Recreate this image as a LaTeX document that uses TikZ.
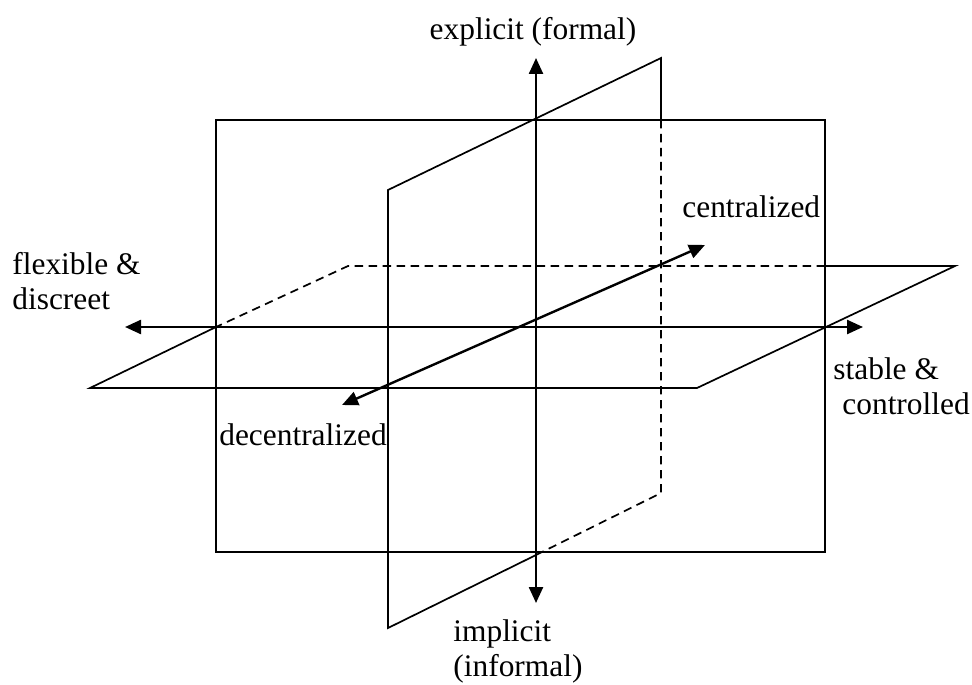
\documentclass[tikz,border=0pt]{standalone}
\usepackage{fontspec}
\setmainfont{Liberation Serif}
\usetikzlibrary{arrows.meta}

\begin{document}
\begin{tikzpicture}[
						x=0.5pt, y=-0.5pt,
						every node/.style={font=\fontsize{15.7}{17.5}\selectfont, inner sep=0pt},
						plane/.style={line width=0.85pt},
						hidden/.style={line width=0.85pt, dash pattern=on 4.2pt off 2.8pt},
						axis/.style={line width=1.2pt, {Triangle[length=8pt,width=7pt]}-{Triangle[length=8pt,width=7pt]}},
						line cap=butt,
						line join=miter
						]
						
						\useasboundingbox (0,0) rectangle (972,684);
						
						% front plane
						\coordinate (tl) at (216,120);
						\coordinate (brr) at (825,552);
						\draw[plane] (tl) rectangle (brr);
						
						% horizontal plane
						\coordinate (hfl) at (90,388);
						\coordinate (hfr) at (697,388);
						\coordinate (hbr) at (955,266);
						\coordinate (hbl) at (348,266);
						\coordinate (hbm) at (825,266);
						\coordinate (hlm) at (216,327);
						\draw[plane] (hlm) -- (hfl) -- (hfr) -- (hbr) -- (hbm);
						\draw[hidden] (hbm) -- (hbl) -- (hlm);
						
						% side plane
						\coordinate (stf) at (388,190);
						\coordinate (stb) at (661,58);
						\coordinate (sbb) at (661,493);
						\coordinate (sbf) at (388,628);
						\coordinate (sbm) at (536,555);
						\coordinate (srm) at (661,120);
						\draw[plane] (sbm) -- (sbf) -- (stf) -- (stb) -- (srm);
						\draw[hidden] (srm) -- (sbb) -- (sbm);
						
						% axes
						\coordinate (up) at (536,58);
						\coordinate (down) at (536,603);
						\coordinate (left) at (125,327);
						\coordinate (right) at (863,327);
						\coordinate (cen) at (705,245);
						\coordinate (dec) at (342,405);
						\draw[axis] (down) -- (up);
						\draw[axis] (left) -- (right);
						\draw[axis] (dec) -- (cen);
						
						% labels
						\node[anchor=base] (explicit) at (533,40) {explicit (formal)};
						\node[anchor=west, align=left] (implicit) at (453,651) {implicit\\(informal)};
						\node[anchor=west, align=left] (flexible) at (12,281) {flexible \&\\discreet};
						\node[anchor=west, align=left] (stable) at (833,386) {stable \&\\\hspace*{4.5pt}controlled};
						\node[anchor=base] (decentral) at (303,445) {decentralized};
						\node[anchor=base west] (central) at (682,217) {centralized};
						
					\end{tikzpicture}
\end{document}
